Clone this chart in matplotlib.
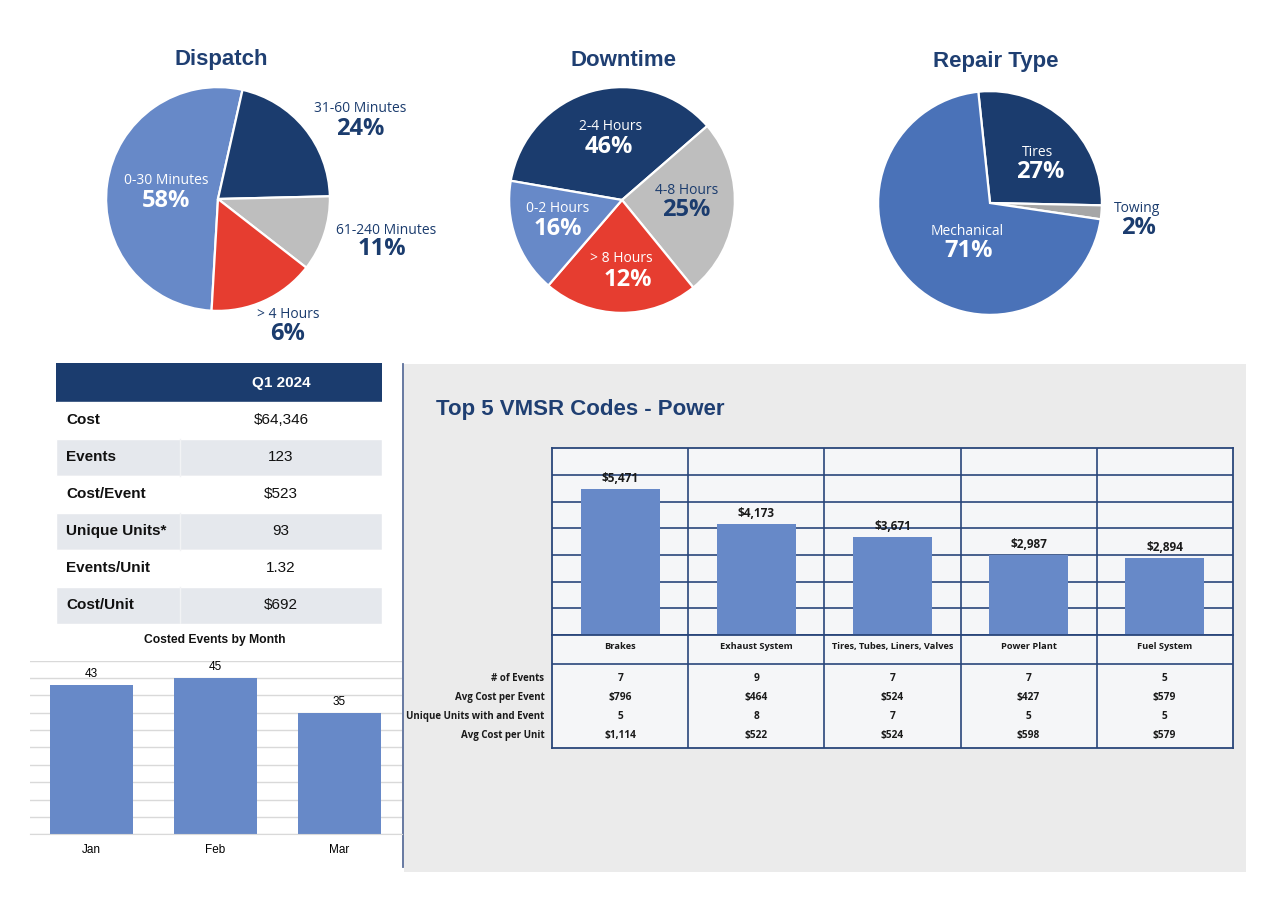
import matplotlib
matplotlib.use("Agg")
import matplotlib.pyplot as plt
from matplotlib.patches import Rectangle
from matplotlib.lines import Line2D

# ---------------- data ----------------
dispatch_labels = ["0-30 Minutes", "31-60 Minutes", "61-240 Minutes", "> 4 Hours"]
dispatch_pct_text = ["58%", "24%", "11%", "6%"]
dispatch_shares = [52.6, 21.1, 10.9, 15.4]      # slice sizes as drawn

downtime_labels = ["2-4 Hours", "4-8 Hours", "> 8 Hours", "0-2 Hours"]
downtime_pct_text = ["46%", "25%", "12%", "16%"]
downtime_shares = [35.9, 25.5, 22.2, 16.4]      # slice sizes as drawn

repair_labels = ["Tires", "Towing", "Mechanical"]
repair_pct_text = ["27%", "2%", "71%"]
repair_shares = [27, 2, 71]

summary_header = "Q1 2024"
summary_rows = ["Cost", "Events", "Cost/Event", "Unique Units*", "Events/Unit", "Cost/Unit"]
summary_values = ["$64,346", "123", "$523", "93", "1.32", "$692"]

months = ["Jan", "Feb", "Mar"]
month_events = [43, 45, 35]

vmsr_codes = ["Brakes", "Exhaust System", "Tires, Tubes, Liners, Valves", "Power Plant", "Fuel System"]
vmsr_cost = [5471, 4173, 3671, 2987, 2894]
vmsr_stat_names = ["# of Events", "Avg Cost per Event", "Unique Units with and Event", "Avg Cost per Unit"]
vmsr_events = [7, 9, 7, 7, 5]
vmsr_avg_cost_event = [796, 464, 524, 427, 579]
vmsr_units = [5, 8, 7, 5, 5]
vmsr_avg_cost_unit = [1114, 522, 524, 598, 579]

# ---------------- style ----------------
W, H = 1275, 906
NAVY = "#1B3C6E"
TITLE = "#1F3F72"
LBLUE = "#6789C8"
MBLUE = "#4A72B8"
GRAY = "#BEBEBE"
RED = "#E63D30"
GRID = "#2A467A"
SANS = ["Liberation Sans", "DejaVu Sans"]
MYR = ["Open Sans", "DejaVu Sans"]

fig = plt.figure(figsize=(W / 100, H / 100), dpi=100)
fig.patch.set_facecolor("white")


def rect(x0, y0, x1, y1):
    return [x0 / W, 1 - y1 / H, (x1 - x0) / W, (y1 - y0) / H]


def ftext(x, y, s, **kw):
    fig.text(x / W, 1 - y / H, s, ha=kw.pop("ha", "center"), va=kw.pop("va", "center"), **kw)


# ---------------- pies ----------------
def pie(cx, cy, r, shares, colors, start):
    ax = fig.add_axes(rect(cx - r, cy - r, cx + r, cy + r))
    ax.pie(shares, colors=colors, startangle=start, counterclock=False,
           wedgeprops=dict(edgecolor="white", linewidth=1.6))
    ax.set_xlim(-1.01, 1.01)
    ax.set_ylim(-1.01, 1.01)
    ax.set_aspect("equal")
    ax.axis("off")
    return ax


def pie_label(name_xy, pct_xy, name, pct, color):
    ftext(*name_xy, name, color=color, fontsize=10, family=MYR)
    ftext(*pct_xy, pct, color=color, fontsize=17, family=MYR, fontweight="bold")


# Dispatch
pie(218, 199, 113, dispatch_shares, [LBLUE, NAVY, GRAY, RED], -93.3)
ftext(221, 60, "Dispatch", color=TITLE, fontsize=16, fontweight="bold", family=SANS)
d_pos = [((166, 181), (166, 201), "white"),
         ((360, 109), (360, 129), NAVY),
         ((386, 230), (382, 249), NAVY),
         ((288, 315), (288, 334), NAVY)]
for (nxy, pxy, c), n, p in zip(d_pos, dispatch_labels, dispatch_pct_text):
    pie_label(nxy, pxy, n, p, c)

# Downtime
pie(622, 200, 114, downtime_shares, [NAVY, GRAY, RED, LBLUE], 170.2)
ftext(623, 60, "Downtime", color=TITLE, fontsize=16, fontweight="bold", family=SANS)
t_pos = [((611, 127), (609, 147), "white"),
         ((687, 190), (686, 210), NAVY),
         ((621, 258), (628, 280), "white"),
         ((558, 209), (558, 229), "white")]
for (nxy, pxy, c), n, p in zip(t_pos, downtime_labels, downtime_pct_text):
    pie_label(nxy, pxy, n, p, c)

# Repair Type
pie(990, 203, 113, repair_shares, [NAVY, "#A6A6A6", MBLUE], 96)
ftext(996, 62, "Repair Type", color=TITLE, fontsize=16, fontweight="bold", family=SANS)
r_pos = [((1038, 152), (1040, 172), "white"),
         ((1137, 208), (1138, 228), NAVY),
         ((967, 231), (969, 251), "white")]
for (nxy, pxy, c), n, p in zip(r_pos, repair_labels, repair_pct_text):
    pie_label(nxy, pxy, n, p, c)

# ---------------- summary table ----------------
axt = fig.add_axes(rect(56, 363, 382, 624))
axt.set_xlim(56, 382)
axt.set_ylim(624, 363)
axt.axis("off")
axt.add_patch(Rectangle((56, 363), 326, 39, facecolor=NAVY, edgecolor="none"))
axt.text(281, 383, summary_header, color="white", fontsize=11, fontweight="bold",
         family=SANS, ha="center", va="center")
row_h = (624 - 402) / len(summary_rows)
for i, (lab, val) in enumerate(zip(summary_rows, summary_values)):
    y0 = 402 + i * row_h
    fc = "white" if i % 2 == 0 else "#E5E8ED"
    axt.add_patch(Rectangle((56, y0), 326, row_h, facecolor=fc, edgecolor="white", lw=1))
    if i % 2 == 1:
        axt.plot([180, 180], [y0, y0 + row_h], color="#F2F3F5", lw=1)
    axt.text(66, y0 + row_h / 2, lab, fontsize=11, fontweight="bold", family=SANS,
             ha="left", va="center", color="#111111")
    axt.text(281, y0 + row_h / 2, val, fontsize=11, family=SANS,
             ha="center", va="center", color="#111111")

# ---------------- costed events by month ----------------
ftext(215, 640, "Costed Events by Month", fontsize=8.7, fontweight="bold", family=SANS, color="#111111")
axc = fig.add_axes(rect(29.5, 660.5, 401.5, 834.3))
xs = range(len(months))
bars = axc.bar(xs, month_events, width=0.67, color=LBLUE, zorder=2)
axc.set_xlim(-0.5, 2.5)
axc.set_ylim(0, 50)
axc.set_yticks(range(0, 51, 5))
axc.yaxis.grid(True, color="#D9D9D9", lw=1, zorder=0)
axc.set_axisbelow(True)
for s in ["top", "right", "left"]:
    axc.spines[s].set_visible(False)
axc.spines["bottom"].set_color("#D9D9D9")
axc.tick_params(axis="y", left=False, labelleft=False)
axc.tick_params(axis="x", bottom=False, pad=3.5)
axc.set_xticks(list(xs))
axc.set_xticklabels(months, fontsize=8.5, family=SANS)
for b, v in zip(bars, month_events):
    axc.annotate(str(v), (b.get_x() + b.get_width() / 2, v), xytext=(0, 8),
                 textcoords="offset points", ha="center", va="center", fontsize=8.5, family=SANS)

# ---------------- right panel ----------------
fig.add_artist(Rectangle((404 / W, 1 - 872 / H), (1246 - 404) / W, (872 - 364) / H,
                         transform=fig.transFigure, facecolor="#EBEBEB", edgecolor="none", zorder=-5))
fig.add_artist(Line2D([403 / W, 403 / W], [1 - 364 / H, 1 - 867 / H], transform=fig.transFigure,
                      color="#5A6E9A", lw=1.3, zorder=-4))
ftext(436.5, 409, "Top 5 VMSR Codes - Power", ha="left", color=TITLE, fontsize=16,
      fontweight="bold", family=SANS)

L, R = 552.3, 1232.7
axv = fig.add_axes(rect(L, 448.3, R, 635))
axv.set_facecolor("#F5F6F8")
xv = list(range(len(vmsr_codes)))
vb = axv.bar(xv, vmsr_cost, width=0.58, color=LBLUE, zorder=3)
axv.set_xlim(-0.5, len(vmsr_codes) - 0.5)
axv.set_ylim(0, 7000)
for yv in range(1000, 7000, 1000):
    axv.axhline(yv, color=GRID, lw=1.2, zorder=1)
for xb in [i + 0.5 for i in xv[:-1]]:
    axv.axvline(xb, color=GRID, lw=1.2, zorder=1)
for s in axv.spines.values():
    s.set_color(GRID)
    s.set_linewidth(1.3)
axv.set_xticks([])
axv.set_yticks([])
for b, v in zip(vb, vmsr_cost):
    axv.annotate(f"${v:,}", (b.get_x() + b.get_width() / 2, v), xytext=(0, 7.5),
                 textcoords="offset points", ha="center", va="center", fontsize=8.5,
                 fontweight="bold", family=MYR, color="#1A1A1A", zorder=5)

axs = fig.add_axes(rect(L, 635, R, 748.3))
axs.set_facecolor("#F5F6F8")
axs.set_xlim(-0.5, len(vmsr_codes) - 0.5)
axs.set_ylim(748.3, 635)
axs.axhline(664, color=GRID, lw=1.2)
for xb in [i + 0.5 for i in xv[:-1]]:
    axs.axvline(xb, color=GRID, lw=1.2)
for s in axs.spines.values():
    s.set_color(GRID)
    s.set_linewidth(1.3)
axs.set_xticks([])
axs.set_yticks([])
for i, c in enumerate(vmsr_codes):
    axs.text(i, 646.5, c, ha="center", va="center", fontsize=6.7, fontweight="bold",
             family=MYR, color="#1A1A1A")
stat_rows = [
    [str(v) for v in vmsr_events],
    [f"${v:,}" for v in vmsr_avg_cost_event],
    [str(v) for v in vmsr_units],
    [f"${v:,}" for v in vmsr_avg_cost_unit],
]
row_y = [679, 697.7, 716.7, 735.7]
col_px = (R - L) / len(vmsr_codes)
for name, vals, y in zip(vmsr_stat_names, stat_rows, row_y):
    axs.text(-0.5 - 8 / col_px, y, name, ha="right", va="center", fontsize=7, fontweight="bold",
             family=MYR, color="#1A1A1A", clip_on=False)
    for i, s in enumerate(vals):
        axs.text(i, y, s, ha="center", va="center", fontsize=7.3, fontweight="bold",
                 family=MYR, color="#1A1A1A")

fig.savefig("out.png", dpi=100, facecolor="white")
